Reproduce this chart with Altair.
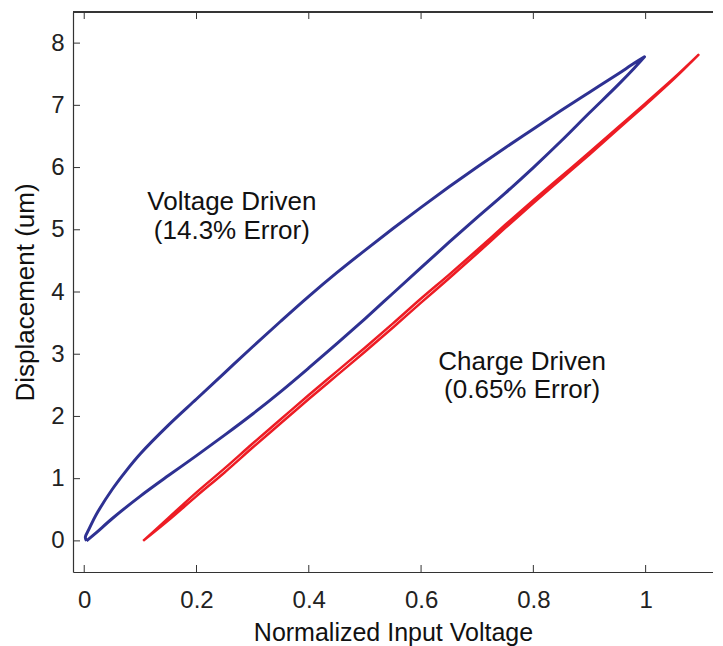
import altair as alt
import pandas as pd

# Voltage-driven hysteresis loop (blue): rising (lower) branch, then returning (upper) branch
blue_up_x = [0.004, 0.02, 0.05, 0.1, 0.15, 0.2, 0.25, 0.3, 0.35, 0.4, 0.45, 0.5, 0.55, 0.6,
             0.65, 0.7, 0.75, 0.8, 0.85, 0.9, 0.95, 0.98, 0.998]
blue_up_y = [0.0, 0.12, 0.36, 0.72, 1.05, 1.37, 1.70, 2.04, 2.40, 2.78, 3.17, 3.57, 3.98, 4.39,
             4.80, 5.20, 5.59, 6.00, 6.43, 6.88, 7.32, 7.60, 7.78]
blue_down_x = [0.998, 0.98, 0.95, 0.9, 0.85, 0.8, 0.75, 0.7, 0.65, 0.6, 0.55, 0.5, 0.45,
               0.4, 0.35, 0.3, 0.25, 0.2, 0.15, 0.1, 0.075, 0.05, 0.025, 0.016, 0.008,
               0.002, 0.004]
blue_down_y = [7.78, 7.68, 7.50, 7.21, 6.92, 6.62, 6.32, 6.01, 5.69, 5.36, 5.02, 4.67, 4.31,
               3.93, 3.53, 3.12, 2.70, 2.28, 1.86, 1.40, 1.13, 0.83, 0.48, 0.33, 0.18,
               0.06, 0.0]

# Charge-driven loop (red)
red_up_x = [0.105, 0.15, 0.2, 0.25, 0.3, 0.35, 0.4, 0.45, 0.5, 0.55, 0.6, 0.65, 0.7,
            0.75, 0.8, 0.85, 0.9, 0.95, 1.0, 1.05, 1.094]
red_up_y = [0.0, 0.33, 0.72, 1.10, 1.50, 1.89, 2.28, 2.66, 3.04, 3.43, 3.83, 4.22, 4.62,
            5.03, 5.43, 5.82, 6.21, 6.61, 7.01, 7.42, 7.81]
red_down_x = [1.094, 1.05, 1.0, 0.95, 0.9, 0.85, 0.8, 0.75, 0.7, 0.65, 0.6, 0.55, 0.5, 0.45,
              0.4, 0.35, 0.3, 0.25, 0.2, 0.15, 0.105]
red_down_y = [7.81, 7.435, 7.035, 6.64, 6.245, 5.86, 5.475, 5.08, 4.675, 4.28, 3.895, 3.495,
              3.105, 2.725, 2.345, 1.955, 1.565, 1.165, 0.78, 0.37, 0.0]

x_ticks = [0, 0.2, 0.4, 0.6, 0.8, 1]
y_ticks = [0, 1, 2, 3, 4, 5, 6, 7, 8]

label_text = ["Voltage Driven", "(14.3% Error)", "Charge Driven", "(0.65% Error)"]
label_x = [0.263, 0.263, 0.78, 0.78]
label_y = [5.32, 4.85, 2.75, 2.30]

W, H = 640, 560
FONT = "Liberation Sans"

rows = []
for i, (x, y) in enumerate(zip(blue_up_x + blue_down_x, blue_up_y + blue_down_y)):
    rows.append({"x": x, "y": y, "series": "Voltage", "o": i})
for i, (x, y) in enumerate(zip(red_up_x + red_down_x, red_up_y + red_down_y)):
    rows.append({"x": x, "y": y, "series": "Charge", "o": i})
df = pd.DataFrame(rows)

xs = alt.Scale(domain=[-0.02, 1.12], nice=False, zero=False)
ys = alt.Scale(domain=[-0.5, 8.5], nice=False, zero=False)

base = alt.Chart(df).encode(
    x=alt.X("x:Q", scale=xs, title="Normalized Input Voltage",
            axis=alt.Axis(values=x_ticks, format="~g", ticks=False, grid=False,
                          labelPadding=16, titlePadding=8)),
    y=alt.Y("y:Q", scale=ys, title="Displacement (um)",
            axis=alt.Axis(values=y_ticks, format="d", ticks=False, grid=False,
                          labelPadding=9, titlePadding=12)),
    order="o:Q",
)
blue = base.transform_filter(alt.datum.series == "Voltage").mark_line(
    strokeWidth=3, color="#2e3192", interpolate="catmull-rom", strokeJoin="round")
red = base.transform_filter(alt.datum.series == "Charge").mark_line(
    strokeWidth=2.5, color="#ed1c24", interpolate="catmull-rom", strokeJoin="round")

text_df = pd.DataFrame({"t": label_text, "x": label_x, "y": label_y})
texts = alt.Chart(text_df).mark_text(font=FONT, fontSize=26, color="#111111",
                                      baseline="alphabetic", align="center").encode(
    x=alt.X("x:Q", scale=xs), y=alt.Y("y:Q", scale=ys), text="t:N")

xt = pd.DataFrame({"v": x_ticks})
yt = pd.DataFrame({"v": y_ticks})
tick_color = "#333333"
bottom_ticks = alt.Chart(xt).mark_rule(color=tick_color, strokeWidth=1).encode(
    x=alt.X("v:Q", scale=xs), y=alt.value(H), y2=alt.value(H - 7))
top_ticks = alt.Chart(xt).mark_rule(color=tick_color, strokeWidth=1).encode(
    x=alt.X("v:Q", scale=xs), y=alt.value(0), y2=alt.value(7))
left_ticks = alt.Chart(yt).mark_rule(color=tick_color, strokeWidth=1).encode(
    y=alt.Y("v:Q", scale=ys), x=alt.value(0), x2=alt.value(7))
top_line = alt.Chart(xt).mark_rule(color=tick_color, strokeWidth=1.2).encode(
    x=alt.value(0), x2=alt.value(W), y=alt.value(0))

chart = alt.layer(blue, red, texts, bottom_ticks, top_ticks, left_ticks, top_line).properties(
    width=W, height=H,
    autosize=alt.AutoSizeParams(type="none"),
    padding={"left": 65, "top": 4, "right": 0, "bottom": 78},
).configure_view(stroke=None).configure_axis(
    labelFont=FONT, titleFont=FONT, labelFontSize=24, titleFontSize=25,
    labelColor="#222222", titleColor="#111111", titleFontWeight="normal",
    domainColor=tick_color, domainWidth=1.2,
).configure_axisY(titleFontSize=26)

chart.save("out.html", embed_options={"renderer": "svg", "actions": False})
